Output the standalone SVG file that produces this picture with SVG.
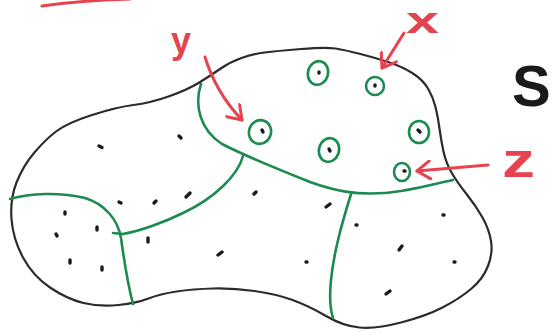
<svg xmlns="http://www.w3.org/2000/svg" width="553" height="333" viewBox="0 0 553 333">
<style>
.outline{fill:none;stroke:#2b2b2b;stroke-width:2.2;stroke-linecap:round;stroke-linejoin:round}
.border{fill:none;stroke:#1d8a50;stroke-width:2.6;stroke-linecap:round;stroke-linejoin:round}
.pt{fill:none;stroke:#1d8a50;stroke-width:2.6}
.dot{fill:none;stroke:#1a1a1a;stroke-width:3.4;stroke-linecap:round}
.arrow{fill:none;stroke:#e5434f;stroke-width:3;stroke-linecap:round;stroke-linejoin:round}
.lbl{fill:#e5434f;font-family:"Liberation Sans",Arial,sans-serif;font-weight:bold}
.s{fill:#1a1a1a;font-family:"Liberation Sans",Arial,sans-serif;font-weight:bold}
</style>
<defs>
<marker id="vhead" viewBox="-16 -10 20 20" markerWidth="20" markerHeight="20" refX="0" refY="0" orient="auto" markerUnits="userSpaceOnUse">
<path d="M -13,-9 L 0,0 L -13,9" fill="none" stroke="#e5434f" stroke-width="3" stroke-linecap="round" stroke-linejoin="round"/>
</marker>
</defs>
<rect width="553" height="333" fill="#ffffff"/>
<g id="outline">
<path class="outline" d="M 34,153 Q 45,140 56,131.5 Q 67,123 92,115 Q 117,107 133.5,105 Q 150,103 168.5,96.5 Q 187,90 198.5,83 Q 210,76 220,69 Q 230,62 241.5,58 Q 253,54 264.5,52.5 Q 276,51 301,49 Q 326,47 335.5,48.5 Q 345,50 360.5,54 Q 376,58 389.5,62.5 Q 403,67 413,73.5 Q 423,80 428,88.5 Q 433,97 435.5,107 Q 438,117 439.5,128.5 Q 441,140 443.5,151.5 Q 446,163 451.5,172.5 Q 457,182 466.5,194 Q 476,206 482.5,217.5 Q 489,229 491,241 Q 493,253 488,266 Q 483,279 471,289 Q 459,299 442.5,307.5 Q 426,316 401,322.5 Q 376,329 359.5,327.5 Q 343,326 326,316 Q 309,306 292.5,300 Q 276,294 254.5,291 Q 233,288 213,288.5 Q 193,289 176.5,291.5 Q 160,294 148.5,298.5 Q 137,303 118.5,305 Q 100,307 83.5,303 Q 67,299 50,287.5 Q 33,276 23,257.5 Q 13,239 11.5,219 Q 10,199 16.5,182.5 Q 23,166 34,153 Z"/>
</g>
<g id="region-borders">
<path class="border" d="M 201,84 C 194,105 200,130 222,144 C 245,156 280,170 310,182 C 335,191 355,195 385,193 C 410,191 430,185 453,180"/>
<path class="border" d="M 243,156 C 238,175 215,198 183,213 C 165,222 140,231 123,234"/>
<path class="border" d="M 10,199 C 30,193 60,192 85,198 C 105,204 118,220 121,238 C 124,260 128,285 133,304"/>
<path class="border" d="M 113,233 L 123,234"/>
<path class="border" d="M 351,194 C 343,220 334,250 331,280 C 329,300 331,312 333,318"/>
</g>
<g id="points">
<g id="point-y"><ellipse class="pt" cx="260" cy="132" rx="11" ry="12" transform="rotate(20 260 132)"/><path class="dot" d="M 262,130 l 1,2"/></g>
<g id="point-a"><ellipse class="pt" cx="318" cy="73" rx="10" ry="12" transform="rotate(15 318 73)"/><path class="dot" d="M 319,72 l 0,1"/></g>
<g id="point-x"><ellipse class="pt" cx="375" cy="86" rx="9" ry="9"/><path class="dot" d="M 375,85 l 0,1"/></g>
<g id="point-b"><ellipse class="pt" cx="329" cy="150" rx="10" ry="12" transform="rotate(15 329 150)"/><path class="dot" d="M 329,149 l 1,2"/></g>
<g id="point-c"><ellipse class="pt" cx="419" cy="132" rx="10" ry="11"/><path class="dot" d="M 418,130 l 2,2"/></g>
<g id="point-z"><ellipse class="pt" cx="402" cy="172" rx="8" ry="9"/><path class="dot" d="M 404,171 l 1,0"/></g>
</g>
<g id="dots">
<path class="dot" d="M 99,146 l 3,1.5"/>
<path class="dot" d="M 179,136 l 2,2"/>
<path class="dot" d="M 119,202 l 2,1"/>
<path class="dot" d="M 154,203 l 2,-2"/>
<path class="dot" d="M 186,197 l 4,-4"/>
<path class="dot" d="M 65,212 l 0,2"/>
<path class="dot" d="M 97,227 l 0,3"/>
<path class="dot" d="M 56,234 l 1,2"/>
<path class="dot" d="M 148,238 l 0,4"/>
<path class="dot" d="M 254,194 l 2,-2"/>
<path class="dot" d="M 70,260 l 0,3"/>
<path class="dot" d="M 102,267 l 0,3"/>
<path class="dot" d="M 218,255 l 4,-3"/>
<path class="dot" d="M 326,207 l 4,-3"/>
<path class="dot" d="M 356,225 l 1,0"/>
<path class="dot" d="M 443,215 l 1,0"/>
<path class="dot" d="M 399,250 l 3,-4"/>
<path class="dot" d="M 306,262 l 1,0"/>
<path class="dot" d="M 454,262 l 1,0"/>
<path class="dot" d="M 386,294 l 4,-3"/>
</g>
<g id="connectors">
<path class="arrow" d="M 205,57 C 212,80 224,101 242,120" marker-end="url(#vhead)"/>
<path class="arrow" d="M 404,33 L 382,68" marker-end="url(#vhead)"/>
<path class="arrow" d="M 488,165 L 417,171" marker-end="url(#vhead)"/>
<path class="arrow" d="M 42,6 C 70,2 100,0 130,-1"/>
</g>
<g id="labels">
<text class="lbl" x="181" y="53" font-size="36" text-anchor="middle">y</text>
<text class="lbl" x="406" y="33" font-size="36" textLength="33" lengthAdjust="spacingAndGlyphs">x</text>
<text class="lbl" x="502" y="177" font-size="48" textLength="33" lengthAdjust="spacingAndGlyphs">z</text>
<text class="s" x="512" y="106" font-size="58">S</text>
</g>
</svg>
